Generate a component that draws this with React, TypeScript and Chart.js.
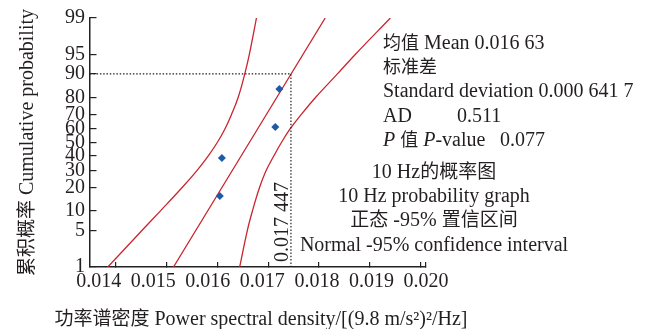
import React, { useEffect, useRef } from "react";
import { Chart, registerables } from "chart.js";

Chart.register(...registerables);

const LATIN = '"Liberation Serif", "Times New Roman", serif';
const CJK = '"Noto Sans CJK SC", sans-serif';
const INK = "#231f20";
const RED = "#c9252f";
const BLUE = "#1e5aa6";
const CJK_SIZE = 18;
const LATIN_SIZE = 20;

// sorted observations and their plotting positions (%)
const SAMPLE_VALUES = [0.01605, 0.01609, 0.01714, 0.01722];
const SAMPLE_PROBS = [15.9, 38.6, 61.4, 84.1];

// fitted normal distribution line
const FIT_VALUES = [0.01514, 0.01812];
const FIT_PROBS = [1, 99];

// 95% confidence band
const BAND_PROBS = [1, 5, 10, 20, 30, 40, 50, 60, 70, 80, 90, 95, 99];
const BAND_LOW = [0.01385, 0.01452, 0.01488, 0.01531, 0.0156, 0.01582, 0.016, 0.01615, 0.01628, 0.01641, 0.01654, 0.01663, 0.01677];
const BAND_HIGH = [0.01644, 0.01659, 0.01669, 0.01683, 0.01696, 0.01711, 0.01726, 0.01743, 0.01765, 0.01793, 0.01836, 0.01871, 0.0194];

// 90th percentile reference
const REF_PROB = 90;
const REF_VALUE = 0.017447;

const X_MIN = 0.0135;
const X_MAX = 0.0201;
const X_TICKS = [0.014, 0.015, 0.016, 0.017, 0.018, 0.019, 0.02];
const X_TICK_LABELS = ["0.014", "0.015", "0.016", "0.017", "0.018", "0.019", "0.020"];
const Y_TICKS = [1, 5, 10, 20, 30, 40, 50, 60, 70, 80, 90, 95, 99];

type Run = { t: string; i?: boolean };

const X_TITLE: Run[] = [{ t: "功率谱密度 Power spectral density/[(9.8 m/s²)²/Hz]" }];
const Y_TITLE: Run[] = [{ t: "累积概率 Cumulative probability" }];

const STAT_ROWS: { label: Run[]; value?: string }[] = [
  { label: [{ t: "均值 Mean 0.016 63" }] },
  { label: [{ t: "标准差" }] },
  { label: [{ t: "Standard deviation 0.000 641 7" }] },
  { label: [{ t: "AD" }], value: "0.511" },
  { label: [{ t: "P", i: true }, { t: " 值 " }, { t: "P", i: true }, { t: "-value" }], value: "0.077" },
];
const VALUE_COL = [0, 0, 0, 74, 117];

const GRAPH_LINES = [
  "10 Hz的概率图",
  "10 Hz probability graph",
  "正态 -95% 置信区间",
  "Normal -95% confidence interval",
];

// inverse standard normal CDF (Acklam)
function probit(p: number): number {
  const a = [-39.69683028665376, 220.9460984245205, -275.9285104469687, 138.357751867269, -30.66479806614716, 2.506628277459239];
  const b = [-54.47609879822406, 161.5858368580409, -155.6989798598866, 66.80131188771972, -13.28068155288572];
  const c = [-0.007784894002430293, -0.3223964580411365, -2.400758277161838, -2.549732539343734, 4.374664141464968, 2.938163982698783];
  const d = [0.007784695709041462, 0.3224671290700398, 2.445134137142996, 3.754408661907416];
  const lo = 0.02425;
  if (p < lo) {
    const q = Math.sqrt(-2 * Math.log(p));
    return (((((c[0] * q + c[1]) * q + c[2]) * q + c[3]) * q + c[4]) * q + c[5]) / ((((d[0] * q + d[1]) * q + d[2]) * q + d[3]) * q + 1);
  }
  if (p <= 1 - lo) {
    const q = p - 0.5;
    const r = q * q;
    return ((((((a[0] * r + a[1]) * r + a[2]) * r + a[3]) * r + a[4]) * r + a[5]) * q) / (((((b[0] * r + b[1]) * r + b[2]) * r + b[3]) * r + b[4]) * r + 1);
  }
  const q = Math.sqrt(-2 * Math.log(1 - p));
  return -(((((c[0] * q + c[1]) * q + c[2]) * q + c[3]) * q + c[4]) * q + c[5]) / ((((d[0] * q + d[1]) * q + d[2]) * q + d[3]) * q + 1);
}

const z = (percent: number) => probit(percent / 100);
const points = (xs: number[], ps: number[]) => xs.map((x, k) => ({ x, y: z(ps[k]) }));

function groupFraction(v: number, digits: number) {
  const [i, f] = v.toFixed(digits).split(".");
  return i + "." + (f.match(/.{1,3}/g) || []).join(" ");
}

const CJK_RE = /[\u3000-\u303f\u3400-\u9fff\uff00-\uffef]/;

function toPieces(parts: Run[], cjkSize: number) {
  const out: { t: string; font: string; w: number }[] = [];
  const mk = (t: string, cjk: boolean, it?: boolean) => ({
    t,
    font: cjk ? `${cjkSize}px ${CJK}` : `${it ? "italic " : ""}${LATIN_SIZE}px ${LATIN}`,
    w: 0,
  });
  for (const p of parts) {
    let buf = "";
    let cur: boolean | null = null;
    for (const ch of p.t) {
      const c = CJK_RE.test(ch);
      if (cur !== null && c !== cur) {
        out.push(mk(buf, cur, p.i));
        buf = "";
      }
      cur = c;
      buf += ch;
    }
    if (buf) out.push(mk(buf, !!cur, p.i));
  }
  return out;
}

function drawRuns(
  ctx: CanvasRenderingContext2D,
  parts: Run[],
  x: number,
  y: number,
  align: "left" | "center",
  cjkSize = CJK_SIZE
) {
  const pieces = toPieces(parts, cjkSize);
  let total = 0;
  for (const r of pieces) {
    ctx.font = r.font;
    r.w = ctx.measureText(r.t).width;
    total += r.w;
  }
  let cx = align === "center" ? x - total / 2 : x;
  ctx.textAlign = "left";
  for (const r of pieces) {
    ctx.font = r.font;
    ctx.fillText(r.t, cx, y);
    cx += r.w;
  }
}

const notesPlugin = {
  id: "notes",
  afterDraw(chart: any) {
    const { ctx, chartArea: area, scales } = chart;
    ctx.save();
    ctx.fillStyle = INK;
    ctx.textBaseline = "alphabetic";

    // statistics block
    const x0 = area.right - 43;
    STAT_ROWS.forEach((row, k) => {
      const y = area.top + 31 + k * 24.2;
      drawRuns(ctx, row.label, x0, y, "left");
      if (row.value) drawRuns(ctx, [{ t: row.value }], x0 + VALUE_COL[k], y, "left");
    });

    // graph caption
    const cx = area.right + 8;
    GRAPH_LINES.forEach((line, k) => {
      drawRuns(ctx, [{ t: line }], cx, area.top + 160 + k * 24.2, "center", 19);
    });

    // axis titles
    drawRuns(ctx, X_TITLE, (area.left + area.right) / 2 + 3, 325, "center", 19);
    ctx.save();
    ctx.translate(33, (area.top + area.bottom) / 2);
    ctx.rotate(-Math.PI / 2);
    drawRuns(ctx, Y_TITLE, 0, 0, "center", 19);
    ctx.restore();

    // value of the 90th percentile along the dotted marker
    const px = scales.x.getPixelForValue(REF_VALUE);
    ctx.translate(px - 3, area.bottom - 45);
    ctx.rotate(-Math.PI / 2);
    ctx.font = `${LATIN_SIZE}px ${LATIN}`;
    ctx.textAlign = "center";
    ctx.fillText(groupFraction(REF_VALUE, 6), 0, 0);
    ctx.restore();
  },
};

export default function App() {
  const canvasRef = useRef<HTMLCanvasElement | null>(null);

  useEffect(() => {
    const canvas = canvasRef.current;
    if (!canvas) return;

    const curve = (data: { x: number; y: number }[]) => ({
      data,
      showLine: true,
      borderColor: RED,
      borderWidth: 1.3,
      pointRadius: 0,
      tension: 0.4,
      fill: false,
    });

    const chart = new Chart(canvas, {
      type: "scatter",
      data: {
        datasets: [
          {
            data: points(SAMPLE_VALUES, SAMPLE_PROBS),
            pointStyle: "rectRot",
            pointRadius: 4,
            backgroundColor: BLUE,
            borderWidth: 0,
            showLine: false,
          },
          {
            data: [
              { x: X_MIN, y: z(REF_PROB) },
              { x: REF_VALUE, y: z(REF_PROB) },
              { x: REF_VALUE, y: z(Y_TICKS[0]) },
            ],
            showLine: true,
            borderColor: "#222",
            borderWidth: 1.2,
            borderDash: [1.5, 1.8],
            pointRadius: 0,
            tension: 0,
          },
          curve(points(FIT_VALUES, FIT_PROBS)),
          curve(points(BAND_LOW, BAND_PROBS)),
          curve(points(BAND_HIGH, BAND_PROBS)),
        ] as any,
      },
      options: {
        animation: false,
        responsive: false,
        events: [],
        layout: { padding: { top: 18, right: 222, bottom: 0, left: 0 } },
        plugins: { legend: { display: false }, tooltip: { enabled: false } },
        scales: {
          x: {
            type: "linear",
            position: "bottom",
            weight: 0,
            min: X_MIN,
            max: X_MAX,
            afterBuildTicks: (s: any) => {
              s.ticks = [...X_TICKS, X_MAX].map((v) => ({ value: v }));
            },
            afterFit: (s: any) => {
              s.height = 0;
              s.paddingLeft = 0;
              s.paddingRight = 0;
            },
            ticks: { display: false },
            grid: { display: true, drawOnChartArea: false, drawTicks: true, tickLength: -5, color: "#222", lineWidth: 1.2 },
            border: { display: true, color: "#222", width: 1.5 },
          },
          x2: {
            type: "linear",
            position: "bottom",
            weight: 1,
            min: 0.01384,
            max: 0.02,
            afterBuildTicks: (s: any) => {
              s.ticks = X_TICKS.map((v) => ({ value: v }));
            },
            afterFit: (s: any) => {
              s.height = 62;
              s.paddingLeft = 0;
              s.paddingRight = 0;
            },
            ticks: {
              autoSkip: false,
              maxRotation: 0,
              padding: 3,
              color: INK,
              font: { family: LATIN, size: LATIN_SIZE },
              callback: (_v: any, i: number) => X_TICK_LABELS[i],
            },
            grid: { display: false, drawTicks: false },
            border: { display: false },
          },
          y: {
            type: "linear",
            position: "left",
            min: z(Y_TICKS[0]),
            max: z(Y_TICKS[Y_TICKS.length - 1]),
            afterBuildTicks: (s: any) => {
              s.ticks = Y_TICKS.map((p) => ({ value: z(p) }));
            },
            afterFit: (s: any) => {
              s.width = 90;
              s.paddingTop = 0;
              s.paddingBottom = 0;
            },
            ticks: {
              autoSkip: false,
              padding: 11.5,
              color: INK,
              font: { family: LATIN, size: LATIN_SIZE },
              callback: (_v: any, i: number) => String(Y_TICKS[i]),
            },
            grid: { display: true, drawOnChartArea: false, drawTicks: true, tickLength: -6.5, color: "#222", lineWidth: 1.2 },
            border: { display: true, color: "#222", width: 1.5 },
          },
        },
      } as any,
      plugins: [notesPlugin],
    });

    return () => chart.destroy();
  }, []);

  return (
    <div style={{ position: "fixed", left: 0, top: 0, width: 648, height: 329, background: "#fff" }}>
      <canvas ref={canvasRef} width={648} height={329} style={{ display: "block" }} />
    </div>
  );
}
